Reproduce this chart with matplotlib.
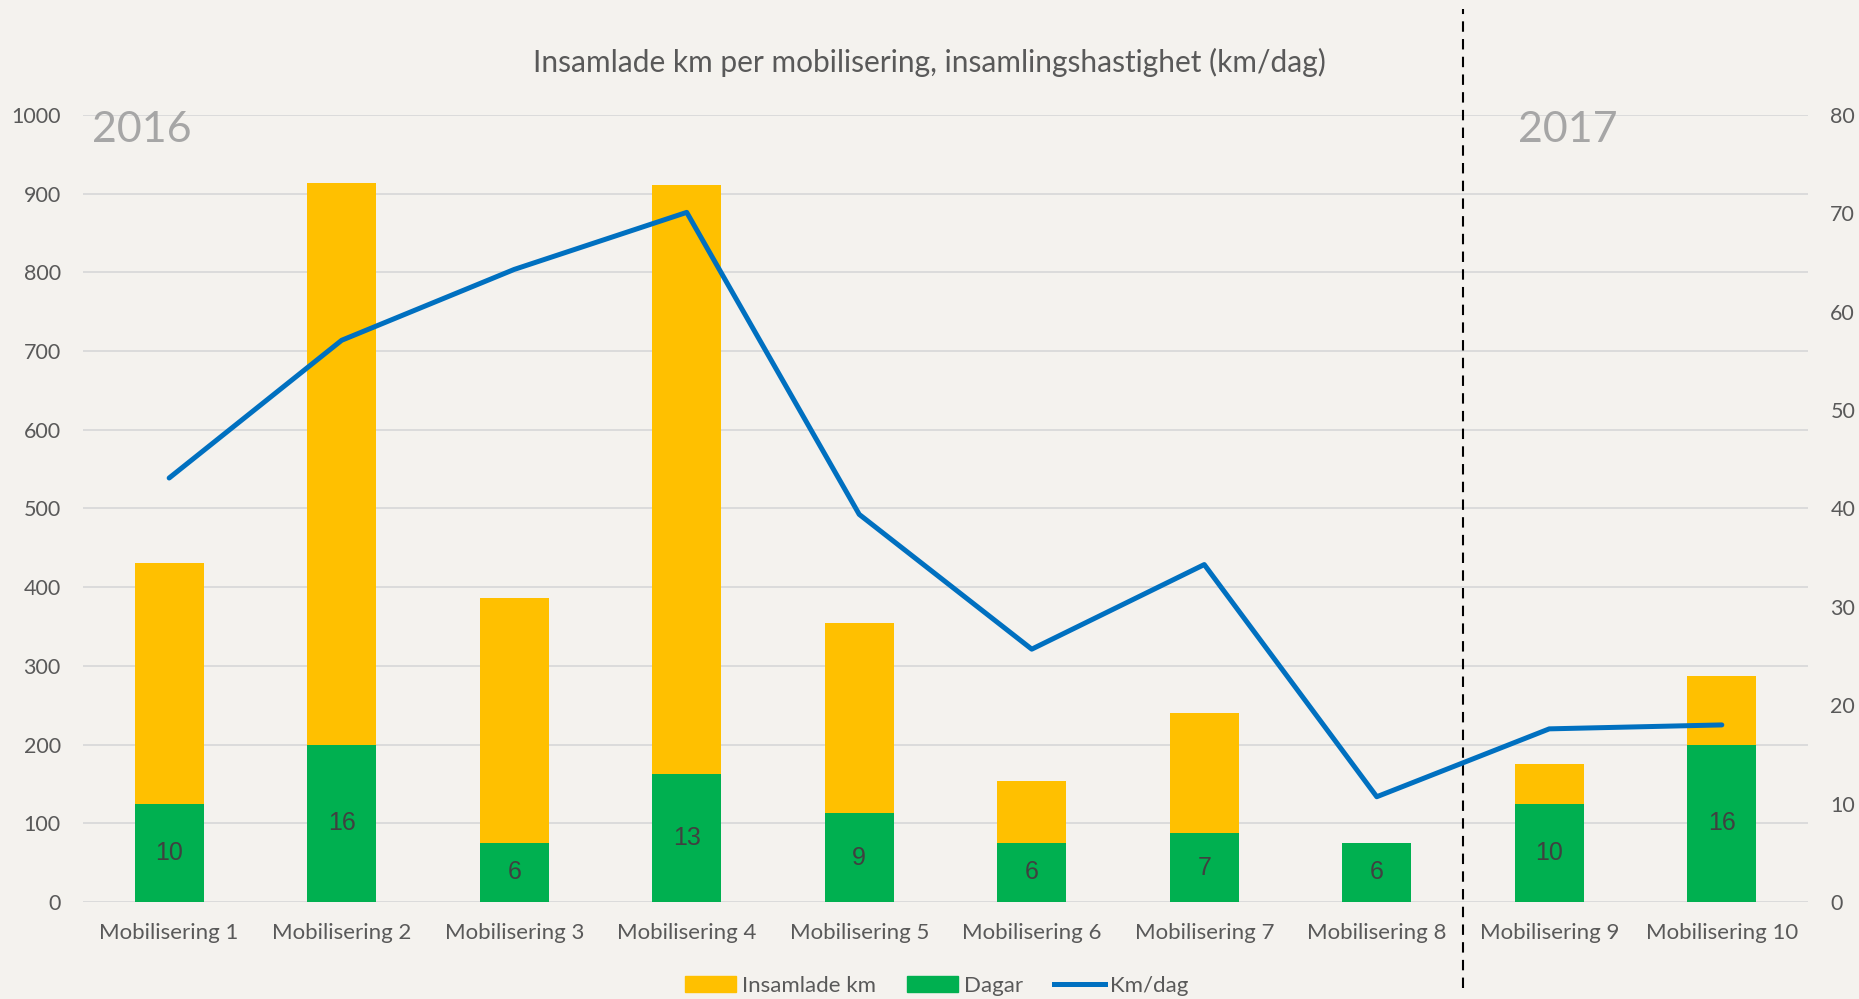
import matplotlib
matplotlib.use("Agg")
import matplotlib.pyplot as plt
from matplotlib.patches import Patch
from matplotlib.lines import Line2D
import numpy as np

categories = ["Mobilisering 1", "Mobilisering 2", "Mobilisering 3", "Mobilisering 4",
              "Mobilisering 5", "Mobilisering 6", "Mobilisering 7", "Mobilisering 8",
              "Mobilisering 9", "Mobilisering 10"]
km = [431, 913, 386, 911, 354, 154, 240, 64, 175, 287]
dagar = [10, 16, 6, 13, 9, 6, 7, 6, 10, 16]
km_per_dag = [43.1, 57.1, 64.3, 70.1, 39.4, 25.7, 34.3, 10.7, 17.6, 18.0]

BG = "#f4f2ee"
YELLOW = "#ffc000"
GREEN = "#00b050"
BLUE = "#0070c0"
TXT = "#595959"

plt.rcParams["font.family"] = ["Lato", "DejaVu Sans"]

fig = plt.figure(figsize=(18.59, 9.99), dpi=100, facecolor=BG)
ax = fig.add_axes([0.0446, 0.0971, 0.928, 0.7878])
ax.set_facecolor(BG)
ax2 = ax.twinx()
ax2.patch.set_visible(False)

x = np.arange(len(categories))
w = 0.4

ax.bar(x, km, width=w, color=YELLOW, zorder=2)
ax2.bar(x, dagar, width=w, color=GREEN, zorder=2)
ax2.plot(x, km_per_dag, color=BLUE, lw=3.6, solid_capstyle="round", zorder=3)

for xi, d in zip(x, dagar):
    ax2.text(xi, d / 2, str(d), ha="center", va="center", fontsize=18,
             color="#404040", family=["Liberation Sans"], zorder=4)

ax.set_xlim(-0.5, len(categories) - 0.5)
ax.set_ylim(0, 1000)
ax2.set_ylim(0, 80)
ax.set_yticks(np.arange(0, 1001, 100))
ax2.set_yticks(np.arange(0, 81, 10))
ax.set_xticks(x)
ax.set_xticklabels(categories)

ax.grid(axis="y", color="#d9d9d9", lw=1.3, zorder=0)
ax.set_axisbelow(True)
for a in (ax, ax2):
    for s in a.spines.values():
        s.set_visible(False)
    a.tick_params(length=0, labelsize=15.5, labelcolor=TXT)
ax.tick_params(axis="y", pad=16)
ax2.tick_params(axis="y", pad=16)
ax.tick_params(axis="x", labelsize=16, pad=15)

# year labels and separator
ax.text(-0.445, 966, "2016", fontsize=31, color="#a6a6a6", ha="left", va="baseline")
ax.text(7.82, 966, "2017", fontsize=31, color="#a6a6a6", ha="left", va="baseline")
ax.axvline(7.5, ymin=-0.109, ymax=1.135, color="black", lw=1.5,
           ls=(0, (5, 3.5)), clip_on=False, zorder=5)

fig.text(0.5, 0.937, "Insamlade km per mobilisering, insamlingshastighet (km/dag)",
         ha="center", va="center", fontsize=21.5, color=TXT)

handles = [Patch(color=YELLOW, label="Insamlade km"),
           Patch(color=GREEN, label="Dagar"),
           Line2D([0], [0], color=BLUE, lw=3.6, label="Km/dag")]
leg = fig.legend(handles=handles, loc="center", bbox_to_anchor=(0.504, 0.013), ncol=3,
                 frameon=False, fontsize=16, handlelength=2.3, handleheight=0.75,
                 handletextpad=0.25, columnspacing=1.4, labelcolor=TXT)

fig.savefig("out.png", dpi=100, facecolor=BG)
